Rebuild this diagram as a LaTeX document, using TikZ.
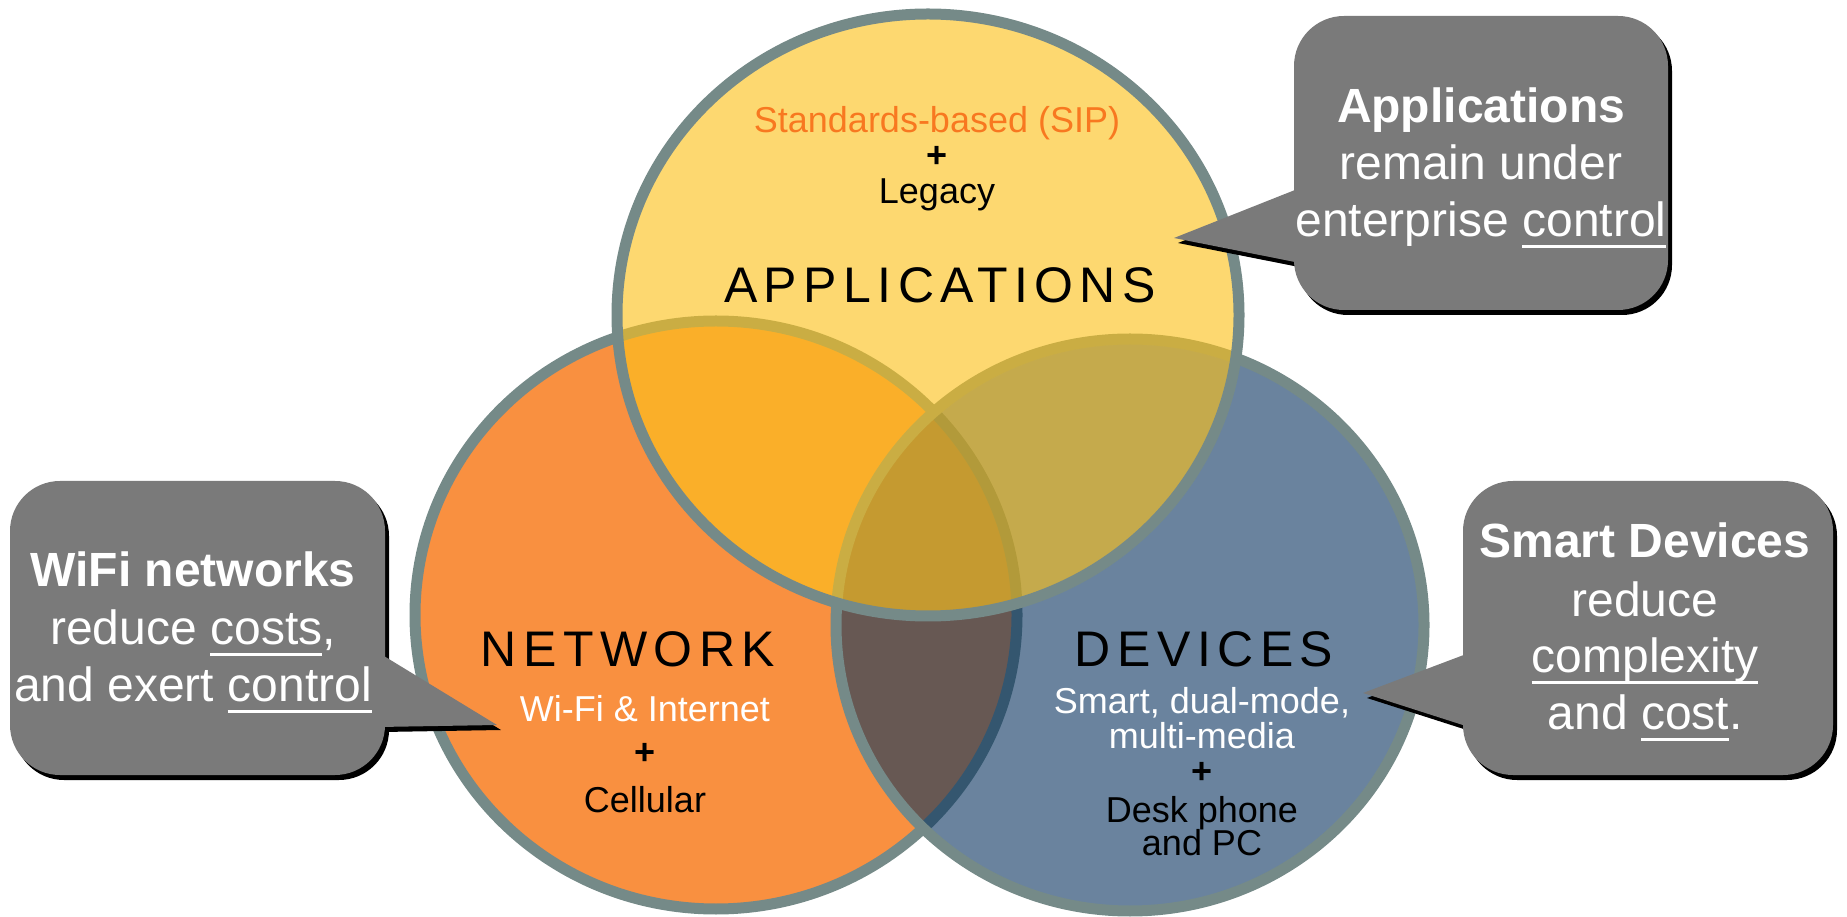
\documentclass[tikz,border=0pt]{standalone}
\usepackage{fontspec}
\setmainfont{Liberation Sans}
\newfontfamily\titlefont[LetterSpace=13]{Liberation Sans}
\definecolor{ringgray}{RGB}{117,138,136}
\definecolor{netorange}{RGB}{249,144,64}
\definecolor{devblue}{RGB}{11,53,96}
\definecolor{appyellow}{RGB}{252,194,28}
\definecolor{boxgray}{RGB}{122,122,122}
\definecolor{sipcolor}{RGB}{248,120,32}
\newcommand{\undl}[1]{\setbox0\hbox{#1}\rlap{\rule[-0.23em]{\wd0}{0.07em}}\box0}
\tikzset{
ring/.style={draw=ringgray, line width=5.5pt},
calltext/.style={text=white, anchor=base, inner sep=0pt, font=\fontsize{24}{28}\selectfont},
smalltext/.style={anchor=base, inner sep=0pt, font=\fontsize{18}{18}\selectfont},
titletext/.style={anchor=base, inner sep=0pt, font=\titlefont\fontsize{25}{25}\selectfont}
}
\begin{document}
\begin{tikzpicture}[x=0.5pt,y=0.5pt]
\useasboundingbox (0,0) rectangle (1847,916);
% the three rings
\filldraw[ring, fill=netorange] (716,301) ellipse [x radius=301, y radius=294];
\fill[devblue, fill opacity=0.61] (1130,291) ellipse [x radius=294, y radius=286];
\draw[ring] (1130,291) ellipse [x radius=294, y radius=286];
\fill[appyellow, fill opacity=0.63] (928,601) ellipse [x radius=311, y radius=301];
\draw[ring] (928,601) ellipse [x radius=311, y radius=301];
% callouts, shadow first
\foreach \dx/\dy/\c in {4/-5/black, 0/0/boxgray} {
\begin{scope}[shift={(\dx,\dy)}]
\fill[\c, rounded corners=25pt] (1294,606) rectangle (1668,900);
\fill[\c] (1300,728) -- (1174,678) -- (1300,653) -- cycle;
\fill[\c, rounded corners=25pt] (10,141) rectangle (385,435);
\fill[\c] (379,263) -- (497,191) -- (379,189) -- cycle;
\fill[\c, rounded corners=25pt] (1463,141) rectangle (1833,435);
\fill[\c] (1469,263) -- (1363,223) -- (1469,189) -- cycle;
\end{scope}
}
% ring texts
\node[smalltext, text=sipcolor] (sip) at (937,783) {Standards-based (SIP)};
\node[smalltext] (appplus) at (937,748) {\bfseries +};
\node[smalltext] (legacy) at (937,712) {Legacy};
\node[titletext] (apps) at (940,613) {APPLICATIONS};
\node[titletext] (net) at (628,249) {NETWORK};
\node[smalltext, text=white] (wifi) at (645,194) {Wi-Fi \& Internet};
\node[smalltext] (netplus) at (645,151) {\bfseries +};
\node[smalltext] (cell) at (645,104) {Cellular};
\node[titletext] (dev) at (1204,249) {DEVICES};
\node[smalltext, text=white] (smart) at (1202,202) {Smart, dual-mode,};
\node[smalltext, text=white] (media) at (1202,168) {multi-media};
\node[smalltext] (devplus) at (1202,133) {\bfseries +};
\node[smalltext] (desk) at (1202,94) {Desk phone};
\node[smalltext] (pc) at (1202,61) {and PC};
% callout texts
\node[calltext] (appsA) at (1481,793) {\bfseries Applications};
\node[calltext] (appsB) at (1481,736) {remain under};
\node[calltext] (appsC) at (1481,679) {enterprise \undl{control}};
\node[calltext] (wifiA) at (193,329) {\bfseries WiFi networks};
\node[calltext] (wifiB) at (193,271) {reduce \undl{costs},};
\node[calltext] (wifiC) at (193,214) {and exert \undl{control}};
\node[calltext] (smartA) at (1645,358) {\bfseries Smart Devices};
\node[calltext] (smartB) at (1645,299) {reduce};
\node[calltext] (smartC) at (1645,243) {\undl{complexity}};
\node[calltext] (smartD) at (1645,186) {and \undl{cost}.};
\end{tikzpicture}
\end{document}
